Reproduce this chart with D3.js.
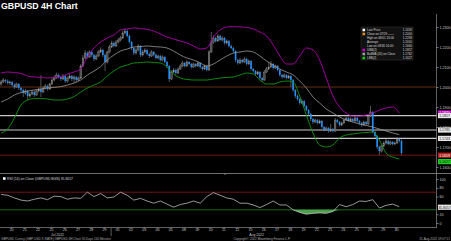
<!DOCTYPE html>
<html>
<head>
<meta charset="utf-8">
<script src="https://cdn.jsdelivr.net/npm/d3@7"></script>
<style>
  body { margin: 0; background: #000; }
  svg { display: block; font-family: "Liberation Sans", Arial, sans-serif; }
</style>
</head>
<body>
<div id="chart"></div>
<script>
// ---- data (4H candles, Jul 19 late -> Aug 30) ----
var firstOpen = 1.2015;
var closes = [
  1.2025,1.2035,1.2030,1.2020,1.2025,1.2010,1.2000,1.2015,1.1995,1.1985,
  1.1970,1.1980,1.1955,1.1965,1.1975,1.1960,1.1980,1.1990,1.1975,1.1995,
  1.2005,1.1990,1.2015,1.2035,1.2045,1.2060,1.2050,1.2040,1.2055,1.2030,
  1.2045,1.2055,1.2040,1.2050,1.2035,1.2045,1.2105,1.2145,1.2170,1.2150,
  1.2175,1.2160,1.2140,1.2155,1.2175,1.2185,1.2160,1.2125,1.2175,1.2200,
  1.2220,1.2205,1.2225,1.2235,1.2245,1.2270,1.2280,1.2255,1.2225,1.2195,
  1.2170,1.2185,1.2205,1.2160,1.2175,1.2185,1.2165,1.2155,1.2175,1.2160,
  1.2145,1.2155,1.2135,1.2150,1.2125,1.2105,1.2040,1.2075,1.2085,1.2070,
  1.2090,1.2105,1.2120,1.2105,1.2125,1.2115,1.2100,1.2115,1.2105,1.2120,
  1.2100,1.2090,1.2105,1.2085,1.2175,1.2225,1.2245,1.2230,1.2255,1.2235,
  1.2245,1.2220,1.2230,1.2205,1.2195,1.2180,1.2135,1.2120,1.2135,1.2125,
  1.2140,1.2115,1.2130,1.2090,1.2080,1.2065,1.2075,1.2045,1.2035,1.2075,
  1.2090,1.2100,1.2115,1.2095,1.2105,1.2085,1.2060,1.2050,1.2060,1.2045,
  1.2055,1.2035,1.1985,1.1955,1.1940,1.1920,1.1930,1.1905,1.1885,1.1865,
  1.1840,1.1825,1.1835,1.1820,1.1830,1.1800,1.1785,1.1795,1.1780,1.1790,
  1.1780,1.1835,1.1825,1.1810,1.1820,1.1835,1.1845,1.1830,1.1840,1.1830,
  1.1845,1.1830,1.1820,1.1810,1.1825,1.1815,1.1855,1.1875,1.1775,1.1755,
  1.1700,1.1680,1.1705,1.1720,1.1730,1.1715,1.1725,1.1715,1.1720,1.1740,
  1.1730,1.1670
];
var highs = [
  1.2035,1.2045,1.2040,1.2038,1.2032,1.2030,1.2018,1.2022,1.2020,1.2000,
  1.1992,1.1990,1.1985,1.1975,1.1985,1.1982,1.1988,1.1998,1.2060,1.2005,
  1.2015,1.2012,1.2022,1.2045,1.2058,1.2072,1.2068,1.2058,1.2065,1.2062,
  1.2052,1.2065,1.2060,1.2058,1.2055,1.2052,1.2115,1.2160,1.2185,1.2178,
  1.2185,1.2182,1.2165,1.2165,1.2185,1.2198,1.2192,1.2168,1.2182,1.2210,
  1.2232,1.2228,1.2235,1.2245,1.2255,1.2282,1.2293,1.2288,1.2262,1.2230,
  1.2200,1.2195,1.2215,1.2210,1.2185,1.2195,1.2192,1.2172,1.2185,1.2180,
  1.2168,1.2162,1.2160,1.2158,1.2155,1.2130,1.2110,1.2082,1.2095,1.2092,
  1.2098,1.2115,1.2130,1.2125,1.2135,1.2130,1.2120,1.2122,1.2120,1.2128,
  1.2125,1.2105,1.2112,1.2110,1.2185,1.2275,1.2258,1.2252,1.2265,1.2262,
  1.2255,1.2250,1.2238,1.2235,1.2212,1.2200,1.2185,1.2142,1.2145,1.2140,
  1.2150,1.2145,1.2138,1.2135,1.2095,1.2085,1.2082,1.2080,1.2050,1.2085,
  1.2100,1.2125,1.2130,1.2120,1.2112,1.2110,1.2090,1.2065,1.2068,1.2065,
  1.2062,1.2060,1.2040,1.1990,1.1962,1.1945,1.1938,1.1935,1.1910,1.1890,
  1.1870,1.1845,1.1842,1.1840,1.1838,1.1835,1.1805,1.1802,1.1800,1.1815,
  1.1795,1.1845,1.1842,1.1830,1.1828,1.1842,1.1852,1.1850,1.1848,1.1845,
  1.1855,1.1850,1.1835,1.1825,1.1832,1.1830,1.1862,1.1905,1.1880,1.1782,
  1.1760,1.1708,1.1712,1.1728,1.1740,1.1735,1.1732,1.1730,1.1728,1.1748,
  1.1745,1.1738
];
var lows = [
  1.2005,1.2020,1.2020,1.2012,1.2010,1.2002,1.1990,1.1995,1.1985,1.1975,
  1.1950,1.1962,1.1935,1.1945,1.1958,1.1950,1.1955,1.1972,1.1950,1.1970,
  1.1988,1.1982,1.1985,1.2010,1.2028,1.2040,1.2042,1.2030,1.2035,1.2020,
  1.2022,1.2040,1.2030,1.2020,1.2025,1.2030,1.2040,1.2100,1.2140,1.2142,
  1.2145,1.2150,1.2130,1.2135,1.2150,1.2170,1.2150,1.2080,1.2118,1.2168,
  1.2195,1.2198,1.2200,1.2218,1.2228,1.2240,1.2262,1.2248,1.2218,1.2185,
  1.2160,1.2162,1.2178,1.2150,1.2152,1.2168,1.2158,1.2145,1.2150,1.2152,
  1.2138,1.2138,1.2128,1.2128,1.2118,1.2095,1.2025,1.2035,1.2068,1.2062,
  1.2065,1.2085,1.2098,1.2098,1.2100,1.2108,1.2092,1.2095,1.2098,1.2100,
  1.2092,1.2082,1.2085,1.2078,1.2080,1.2170,1.2215,1.2222,1.2225,1.2228,
  1.2228,1.2212,1.2212,1.2198,1.2188,1.2172,1.2125,1.2112,1.2115,1.2118,
  1.2120,1.2108,1.2110,1.2082,1.2072,1.2058,1.2060,1.2038,1.2025,1.2030,
  1.2070,1.2085,1.2095,1.2088,1.2090,1.2078,1.2052,1.2042,1.2045,1.2038,
  1.2040,1.2000,1.1975,1.1945,1.1932,1.1912,1.1915,1.1898,1.1878,1.1855,
  1.1830,1.1815,1.1820,1.1812,1.1815,1.1792,1.1778,1.1780,1.1772,1.1775,
  1.1772,1.1775,1.1818,1.1802,1.1805,1.1815,1.1830,1.1825,1.1825,1.1822,
  1.1825,1.1822,1.1812,1.1802,1.1805,1.1808,1.1810,1.1850,1.1768,1.1745,
  1.1690,1.1660,1.1672,1.1698,1.1712,1.1708,1.1710,1.1708,1.1710,1.1715,
  1.1722,1.1660
];

// Bollinger bands and RSI, read every 3rd candle
var upperBand = [
  1.2070,1.2075,1.2072,1.2068,1.2055,1.2050,1.2048,1.2045,1.2048,1.2050,
  1.2065,1.2075,1.2090,1.2150,1.2195,1.2225,1.2245,1.2260,1.2285,1.2290,
  1.2295,1.2292,1.2288,1.2280,1.2265,1.2250,1.2240,1.2230,1.2220,1.2205,
  1.2190,1.2195,1.2250,1.2285,1.2300,1.2302,1.2300,1.2298,1.2290,1.2275,
  1.2255,1.2210,1.2155,1.2115,1.2115,1.2155,1.2195,1.2185,1.2135,1.2045,
  1.1955,1.1900,1.1870,1.1855,1.1855,1.1860,1.1870,1.1885,1.1895,1.1900,
  1.1870
];
var midBand = [
  1.1925,1.1940,1.1960,1.1972,1.1980,1.1985,1.1990,1.1995,1.1998,1.2002,
  1.2010,1.2020,1.2035,1.2060,1.2080,1.2102,1.2135,1.2160,1.2180,1.2190,
  1.2200,1.2202,1.2205,1.2202,1.2200,1.2195,1.2180,1.2160,1.2145,1.2135,
  1.2120,1.2105,1.2115,1.2135,1.2155,1.2170,1.2175,1.2180,1.2175,1.2155,
  1.2130,1.2110,1.2090,1.2075,1.2060,1.2030,1.1995,1.1950,1.1920,1.1890,
  1.1870,1.1850,1.1835,1.1825,1.1815,1.1808,1.1800,1.1790,1.1780,1.1770,
  1.1762
];
var lowerBand = [
  1.1770,1.1790,1.1845,1.1910,1.1935,1.1942,1.1942,1.1940,1.1935,1.1935,
  1.1940,1.1952,1.1975,1.1995,1.2010,1.2025,1.2055,1.2080,1.2100,1.2110,
  1.2120,1.2122,1.2125,1.2122,1.2120,1.2100,1.2065,1.2045,1.2038,1.2035,
  1.2035,1.2035,1.2040,1.2045,1.2048,1.2050,1.2060,1.2070,1.2065,1.2035,
  1.2015,1.2015,1.2025,1.2030,1.2025,1.1955,1.1860,1.1770,1.1710,1.1700,
  1.1710,1.1745,1.1760,1.1765,1.1770,1.1772,1.1775,1.1735,1.1670,1.1650,
  1.1640
];
var rsi = [
  65,63,57,52,50,54,57,53,61,60,
  54,57,56,70,60,67,57,59,70,63,
  52,56,50,45,50,43,36,42,45,50,
  45,60,69,63,57,54,45,45,41,35,
  42,50,41,41,30,24,20,22,23,22,
  26,42,37,42,50,49,53,34,40,43,
  37
];

var dayLabels = ["20","21","22","25","26","27","28","29","01","02","03","04","05","08","09",
                 "10","11","12","15","16","17","18","19","22","23","24","25","26","29","30"];
var monthLabels = ["Jul 2022", "Aug 2022"];
var monthFirstDay = [0, 8];
var priceTicks = [1.16, 1.17, 1.18, 1.19, 1.20, 1.21, 1.22, 1.23];
var rsiTicks = [0, 20, 60, 80, 100];
var rsiLast = 35.8057;
var refLevels = [1.2000, 1.1857, 1.1785, 1.1743, 1.1659];
var rsiLevels = [70, 30];

var legendNames = ["Last Price", "Close on 07/29 \u2014\u2014", "High on 08/01 16:00", "Average",
                   "Low on 08/30 16:00", "UBB(2)", "BollMA (20) on Close", "LBB(2)"];
var legendValues = ["1.1659", "1.2000", "1.2293", "1.2010", "1.1660", "1.1857", "1.1762", "1.1627"];

// ---- layout ----
var width = 451, height = 241;
var axisX = 436.5;

var svg = d3.select("#chart").append("svg")
  .attr("width", width)
  .attr("height", height);

svg.append("rect").attr("width", width).attr("height", height).attr("fill", "#000");

var x = d3.scaleLinear().domain([0, 182]).range([0, 402.6]);
var y = d3.scaleLinear().domain([1.16, 1.23]).range([167, 27]);
var yR = d3.scaleLinear().domain([0, 100]).range([223, 179]);

// title
svg.append("text")
  .attr("x", 1)
  .attr("y", 9)
  .attr("fill", "#fff")
  .attr("font-weight", "bold")
  .attr("font-size", 8.8)
  .text("GBPUSD 4H Chart");

// frame
svg.append("line").attr("x1", 0).attr("x2", width).attr("y1", 173.5).attr("y2", 173.5)
  .attr("stroke", "#8a8a8a").attr("stroke-width", 0.8);
svg.append("line").attr("x1", 0).attr("x2", axisX).attr("y1", 227.5).attr("y2", 227.5)
  .attr("stroke", "#8a8a8a").attr("stroke-width", 0.7);
svg.append("line").attr("x1", axisX).attr("x2", axisX).attr("y1", 14).attr("y2", 228)
  .attr("stroke", "#8a8a8a").attr("stroke-width", 0.7);
svg.append("text").attr("x", 225).attr("y", 174.6).attr("font-size", 3).attr("fill", "#aaa")
  .attr("text-anchor", "middle").text("=");

// ---- main panel ----
var main = svg.append("g");

var levelColors = ["#7a3a12", "#c8c8c8", "#c8c8c8", "#c8c8c8", "#8e1b1b"];
var levelWidths = [0.8, 1.2, 1.2, 1.2, 0.8];
main.selectAll(".ref")
  .data(refLevels)
  .enter()
  .append("line")
  .attr("x1", 0)
  .attr("x2", axisX)
  .attr("y1", function(d){ return y(d); })
  .attr("y2", function(d){ return y(d); })
  .attr("stroke", function(d, i){ return levelColors[i]; })
  .attr("stroke-width", function(d, i){ return levelWidths[i]; });

var candles = closes.map(function(c, i){
  return { i: i, o: i ? closes[i - 1] : firstOpen, h: highs[i], l: lows[i], c: c };
});

main.selectAll(".wick")
  .data(candles)
  .enter()
  .append("line")
  .attr("x1", function(d){ return x(d.i + 0.5); })
  .attr("x2", function(d){ return x(d.i + 0.5); })
  .attr("y1", function(d){ return y(d.h); })
  .attr("y2", function(d){ return y(d.l); })
  .attr("stroke", "#8c8c8c")
  .attr("stroke-width", 0.6);

main.selectAll(".body")
  .data(candles)
  .enter()
  .append("rect")
  .attr("x", function(d){ return x(d.i) + 0.3; })
  .attr("width", 1.6)
  .attr("y", function(d){ return y(Math.max(d.o, d.c)); })
  .attr("height", function(d){ return Math.max(0.8, Math.abs(y(d.o) - y(d.c))); })
  .attr("fill", function(d){ return d.c < d.o ? "#1f8fff" : "#4a4a4a"; })
  .attr("stroke", function(d){ return d.c < d.o ? "none" : "#9a9a9a"; })
  .attr("stroke-width", 0.4);

var bandLine = d3.line()
  .x(function(d, k){ return x(3 * k + 0.5); })
  .y(function(d){ return y(d); })
  .curve(d3.curveMonotoneX);

main.append("path").datum(midBand).attr("d", bandLine)
  .attr("fill", "none").attr("stroke", "#9a9a9a").attr("stroke-width", 0.8);
main.append("path").datum(upperBand).attr("d", bandLine)
  .attr("fill", "none").attr("stroke", "#b000b0").attr("stroke-width", 0.9);
main.append("path").datum(lowerBand).attr("d", bandLine)
  .attr("fill", "none").attr("stroke", "#0e9a0e").attr("stroke-width", 0.9);

// legend box
var legend = svg.append("g").attr("transform", "translate(361,27)");
legend.append("rect").attr("width", 52).attr("height", 33)
  .attr("fill", "#111").attr("stroke", "#3a3a3a").attr("stroke-width", 0.5);
var legendSwatch = ["#ffffff", "#e08a1e", null, null, null, "#d000d0", "#a0a0a0", "#10d010"];
var rows = legend.selectAll(".row")
  .data(legendNames)
  .enter()
  .append("g")
  .attr("transform", function(d, i){ return "translate(0," + (3 + i * 4) + ")"; });
rows.append("rect")
  .attr("x", 1.5).attr("y", -1.3).attr("width", 2.6).attr("height", 2.6)
  .attr("fill", function(d, i){ return legendSwatch[i] || "none"; });
rows.append("text")
  .attr("x", 6).attr("y", 1.1)
  .attr("font-size", 3).attr("fill", "#d8d8d8")
  .text(function(d){ return d; });
rows.append("text")
  .attr("x", 51).attr("y", 1.1)
  .attr("font-size", 3).attr("fill", "#d8d8d8").attr("text-anchor", "end")
  .text(function(d, i){ return legendValues[i]; });

// price axis
var yAxis = d3.axisRight(y)
  .tickValues(priceTicks)
  .tickSize(2)
  .tickFormat(d3.format(".4f"));
var ya = svg.append("g").attr("transform", "translate(" + axisX + ",0)").call(yAxis);
ya.select(".domain").remove();
ya.selectAll("line").attr("stroke", "#bbb").attr("stroke-width", 0.6);
ya.selectAll("text").attr("font-size", 3.6).attr("fill", "#c8c8c8").attr("x", 3);

// value boxes on the axis
function valueBox(val, scale, bg, fg){
  var g = svg.append("g").attr("transform", "translate(438," + scale(val) + ")");
  g.append("rect").attr("x", 0).attr("y", -2.6).attr("width", 13).attr("height", 5.2).attr("fill", bg);
  g.append("text").attr("x", 6.5).attr("y", 1.3).attr("text-anchor", "middle")
    .attr("font-size", 3.5).attr("fill", fg).text(d3.format(".4f")(val));
}
valueBox(1.1870, y, "#d000d0", "#fff");
valueBox(1.1857, y, "#e6e6e6", "#222");
valueBox(1.1785, y, "#e6e6e6", "#222");
valueBox(1.1743, y, "#e6e6e6", "#222");
valueBox(1.1659, y, "#b22222", "#fff");
valueBox(1.1627, y, "#22cc22", "#111");

// ---- RSI panel ----
var rsiG = svg.append("g");
var rsiColors = ["#8e1b1b", "#1a8a1a"];
rsiG.selectAll(".lvl")
  .data(rsiLevels)
  .enter()
  .append("line")
  .attr("x1", 0).attr("x2", axisX)
  .attr("y1", function(d){ return yR(d); })
  .attr("y2", function(d){ return yR(d); })
  .attr("stroke", function(d, i){ return rsiColors[i]; })
  .attr("stroke-width", 0.8);

var rsiArea = d3.area()
  .x(function(d, k){ return x(3 * k + 0.5); })
  .y0(yR(30))
  .y1(function(d){ return yR(Math.min(d, 30)); });
rsiG.append("path").datum(rsi).attr("d", rsiArea).attr("fill", "#4f9f4f");

var rsiLine = d3.line()
  .x(function(d, k){ return x(3 * k + 0.5); })
  .y(function(d){ return yR(d); });
rsiG.append("path").datum(rsi).attr("d", rsiLine)
  .attr("fill", "none").attr("stroke", "#d6d6d6").attr("stroke-width", 0.7);

rsiG.append("rect").attr("x", 3).attr("y", 177.2).attr("width", 2.6).attr("height", 2.6).attr("fill", "#fff");
rsiG.append("text").attr("x", 7).attr("y", 180.2).attr("font-size", 3.4).attr("fill", "#d8d8d8")
  .text("RSI (14)  on Close (GBPUSD BGN) " + rsiLast);

var rAxis = d3.axisRight(yR).tickValues(rsiTicks).tickSize(2);
var ra = svg.append("g").attr("transform", "translate(" + axisX + ",0)").call(rAxis);
ra.select(".domain").remove();
ra.selectAll("line").attr("stroke", "#bbb").attr("stroke-width", 0.6);
ra.selectAll("text").attr("font-size", 3.6).attr("fill", "#c8c8c8").attr("x", 3);
valueBox(rsiLast, yR, "#e6e6e6", "#222");

// ---- time axis ----
var xAxis = d3.axisBottom(x)
  .tickValues(dayLabels.map(function(d, k){ return 5 + 6 * k; }))
  .tickFormat(function(d, k){ return dayLabels[k]; })
  .tickSize(1.5);
var xa = svg.append("g").attr("transform", "translate(0,227.5)").call(xAxis);
xa.select(".domain").remove();
xa.selectAll("line").attr("stroke", "#999").attr("stroke-width", 0.5);
xa.selectAll("text").attr("font-size", 3.6).attr("fill", "#c8c8c8").attr("y", 1.4);

svg.append("line")
  .attr("x1", x(2 + 6 * monthFirstDay[1]) + 0.5).attr("x2", x(2 + 6 * monthFirstDay[1]) + 0.5)
  .attr("y1", 227.5).attr("y2", 236)
  .attr("stroke", "#999").attr("stroke-width", 0.6);

svg.selectAll(".month")
  .data(monthLabels)
  .enter()
  .append("text")
  .attr("x", function(d, i){
    var a = 2 + 6 * monthFirstDay[i];
    var b = i + 1 < monthFirstDay.length ? 2 + 6 * monthFirstDay[i + 1] : 182;
    return x((a + b) / 2);
  })
  .attr("y", 236.1)
  .attr("text-anchor", "middle")
  .attr("font-size", 3.4)
  .attr("fill", "#c8c8c8")
  .text(function(d){ return d; });

// footer
svg.append("text").attr("x", 1).attr("y", 240.3).attr("font-size", 3.1).attr("fill", "#aaa")
  .text("GBPUSD Curncy (GBP-USD X-RATE) GBPUSD 4H Chart 30 Days 240 Minutes");
svg.append("text").attr("x", 262).attr("y", 240.3).attr("font-size", 3.1).attr("fill", "#aaa")
  .attr("text-anchor", "middle").text("Copyright\u00a9 2022 Bloomberg Finance L.P.");
svg.append("text").attr("x", 450).attr("y", 240.3).attr("font-size", 3.1).attr("fill", "#aaa")
  .attr("text-anchor", "end").text("31-Aug-2022 09:07:21");
</script>
</body>
</html>
